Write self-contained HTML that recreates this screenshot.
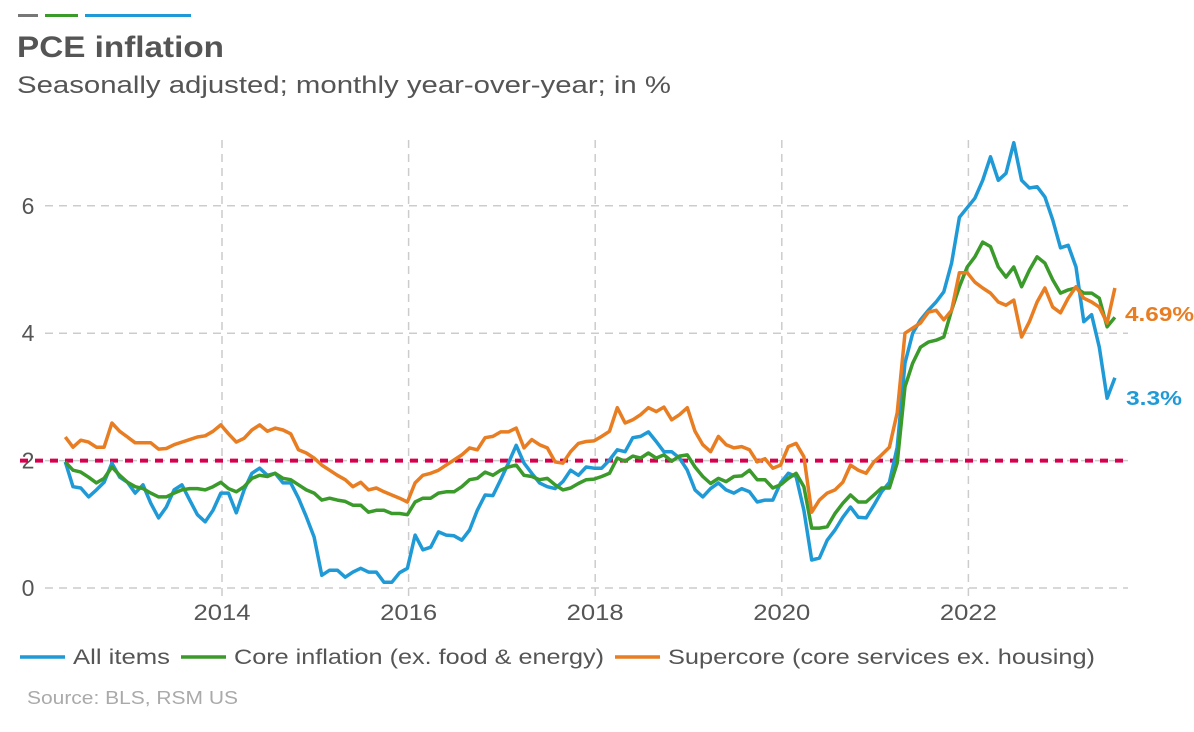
<!DOCTYPE html>
<html><head><meta charset="utf-8"><style>
body{margin:0;background:#fff;font-family:"Liberation Sans",Arial,sans-serif;}
#wrap{position:relative;width:1194px;height:732px;overflow:hidden;}
</style></head><body>
<div id="wrap">
<svg id="chart" width="1194" height="732">
  <rect x="18" y="14" width="20" height="3" fill="#777"/>
  <rect x="45" y="14" width="33" height="3" fill="#3a9a2a"/>
  <rect x="85" y="14" width="106" height="3" fill="#1f9ad6"/>
  <text x="17" y="57" font-size="30" font-weight="bold" fill="#555" textLength="207" lengthAdjust="spacingAndGlyphs">PCE inflation</text>
  <text x="17" y="93" font-size="24" fill="#555" textLength="654" lengthAdjust="spacingAndGlyphs">Seasonally adjusted; monthly year-over-year; in %</text>
  <g id="grid"></g>
  <g id="series"></g>
  <text x="1125" y="321" font-size="20" font-weight="bold" fill="#e87d22" textLength="69" lengthAdjust="spacingAndGlyphs">4.69%</text>
  <text x="1126" y="405" font-size="20" font-weight="bold" fill="#1f9ad6" textLength="56" lengthAdjust="spacingAndGlyphs">3.3%</text>
  <g font-size="21" fill="#555">
    <line x1="20" y1="657" x2="65" y2="657" stroke="#1f9ad6" stroke-width="3.5"/>
    <text x="73" y="664" textLength="97" lengthAdjust="spacingAndGlyphs">All items</text>
    <line x1="181" y1="657" x2="226" y2="657" stroke="#3a9a2a" stroke-width="3.5"/>
    <text x="234" y="664" textLength="370" lengthAdjust="spacingAndGlyphs">Core inflation (ex. food &amp; energy)</text>
    <line x1="615" y1="657" x2="660" y2="657" stroke="#e87d22" stroke-width="3.5"/>
    <text x="668" y="664" textLength="427" lengthAdjust="spacingAndGlyphs">Supercore (core services ex. housing)</text>
  </g>
  <text x="27" y="704" font-size="18" fill="#aaa" textLength="211" lengthAdjust="spacingAndGlyphs">Source: BLS, RSM US</text>
</svg>
</div>
<script>
const startDate = 2012.32;
const yTicks = [0, 2, 4, 6];
const xTicks = [2014, 2016, 2018, 2020, 2022];
const target = 2;
const allItems = [1.98,1.59,1.57,1.43,1.54,1.66,1.96,1.74,1.66,1.49,1.62,1.33,1.10,1.27,1.54,1.62,1.38,1.15,1.04,1.22,1.49,1.49,1.18,1.54,1.80,1.88,1.77,1.80,1.65,1.65,1.41,1.12,0.80,0.20,0.28,0.28,0.17,0.25,0.31,0.25,0.25,0.09,0.09,0.24,0.31,0.83,0.60,0.64,
0.88,0.83,0.82,0.75,0.91,1.22,1.46,1.45,1.70,1.96,2.24,1.96,1.80,1.65,1.59,1.56,1.67,1.85,1.77,1.90,1.88,1.88,2.01,2.17,2.14,2.36,2.38,2.45,2.30,2.14,2.14,2.04,1.85,1.54,1.43,1.56,1.65,1.54,1.49,1.56,1.51,1.35,1.38,1.38,1.65,1.80,1.75,1.22,
0.44,0.47,0.75,0.91,1.11,1.27,1.11,1.10,1.30,1.51,1.66,2.21,3.53,4.00,4.21,4.36,4.49,4.65,5.10,5.82,5.97,6.12,6.40,6.77,6.40,6.51,6.99,6.40,6.28,6.30,6.14,5.78,5.34,5.38,5.04,4.18,4.29,3.78,2.98,3.30];
const core = [1.98,1.85,1.82,1.74,1.65,1.72,1.90,1.77,1.66,1.59,1.56,1.49,1.43,1.43,1.49,1.54,1.56,1.56,1.54,1.59,1.66,1.56,1.51,1.59,1.72,1.77,1.75,1.80,1.72,1.70,1.62,1.54,1.49,1.38,1.41,1.38,1.36,1.30,1.30,1.19,1.22,1.22,1.17,1.17,1.15,1.35,1.41,1.41,
1.49,1.51,1.51,1.59,1.70,1.72,1.82,1.77,1.85,1.90,1.93,1.77,1.75,1.70,1.72,1.62,1.54,1.57,1.64,1.70,1.71,1.75,1.80,2.04,1.99,2.07,2.04,2.12,2.04,2.09,1.99,2.07,2.09,1.90,1.75,1.64,1.72,1.67,1.75,1.76,1.85,1.70,1.70,1.57,1.62,1.72,1.80,1.59,
0.94,0.94,0.96,1.17,1.33,1.46,1.35,1.35,1.46,1.57,1.57,1.96,3.16,3.53,3.78,3.86,3.89,3.94,4.36,4.73,5.04,5.20,5.43,5.36,5.04,4.88,5.04,4.73,4.99,5.20,5.10,4.84,4.63,4.68,4.71,4.63,4.63,4.55,4.10,4.25];
const supercore = [2.37,2.21,2.32,2.29,2.21,2.21,2.59,2.46,2.37,2.28,2.28,2.28,2.18,2.19,2.25,2.29,2.33,2.37,2.39,2.46,2.56,2.42,2.29,2.35,2.48,2.56,2.46,2.51,2.48,2.42,2.17,2.12,2.04,1.93,1.85,1.77,1.70,1.59,1.66,1.54,1.57,1.51,1.46,1.41,1.35,1.65,1.77,1.80,
1.85,1.93,2.01,2.09,2.20,2.17,2.36,2.38,2.45,2.45,2.51,2.20,2.33,2.25,2.20,1.98,1.96,2.14,2.27,2.30,2.31,2.38,2.46,2.83,2.59,2.64,2.72,2.83,2.77,2.84,2.64,2.72,2.83,2.46,2.25,2.14,2.38,2.25,2.20,2.22,2.17,1.98,2.03,1.88,1.93,2.22,2.27,2.06,
1.19,1.38,1.49,1.54,1.66,1.93,1.85,1.80,1.98,2.09,2.21,2.75,4.00,4.08,4.16,4.33,4.36,4.21,4.36,4.95,4.95,4.80,4.71,4.63,4.49,4.44,4.52,3.94,4.18,4.49,4.71,4.41,4.32,4.55,4.73,4.55,4.49,4.41,4.16,4.71];

const NS = "http://www.w3.org/2000/svg";
function xScale(date){ return 222 + (date - 2014) * 93.3; }
function yScale(v){ return 588 - v * 63.7; }
function mk(tag, attrs, parent){ const e = document.createElementNS(NS, tag); for (const k in attrs) e.setAttribute(k, attrs[k]); parent.appendChild(e); return e; }
const grid = document.getElementById('grid');
yTicks.forEach(v => {
  const l = mk('line', {x1:45, x2:1128, y1:yScale(v), y2:yScale(v), stroke:'#ccc', 'stroke-width':1.5, 'stroke-dasharray':'8,6'}, grid);
  
  
  const t = mk('text', {x:28, y:yScale(v)+8, 'font-size':23, fill:'#555', 'text-anchor':'middle'}, grid);
  t.textContent = v;
  
  
});
xTicks.forEach(d => {
  const x = xScale(d);
  const l = mk('line', {x1:x, x2:x, y1:140, y2:598, stroke:'#ccc', 'stroke-width':1.5, 'stroke-dasharray':'8,6'}, grid);
  
  
  const t = mk('text', {x:x, y:620, 'font-size':22, fill:'#555', 'text-anchor':'middle', textLength:57, lengthAdjust:'spacingAndGlyphs'}, grid);
  t.textContent = d;
  
  
});
const tl = mk('line', {x1:20, x2:1128, y1:yScale(target), y2:yScale(target), stroke:'#d6004f', 'stroke-width':4, 'stroke-dasharray':'8,7'}, grid);


const ser = document.getElementById('series');
function drawLine(arr, color, name){
  const pts = arr.map((v,i) => xScale(startDate + i/12).toFixed(1) + ',' + yScale(v).toFixed(1)).join(' ');
  const p = mk('polyline', {points:pts, fill:'none', stroke:color, 'stroke-width':3.5, 'stroke-linejoin':'round'}, ser);
  
  
}
drawLine(allItems, '#1f9ad6', 'all-items-line');
drawLine(core, '#3a9a2a', 'core-line');
drawLine(supercore, '#e87d22', 'supercore-line');
</script>
</body></html>
